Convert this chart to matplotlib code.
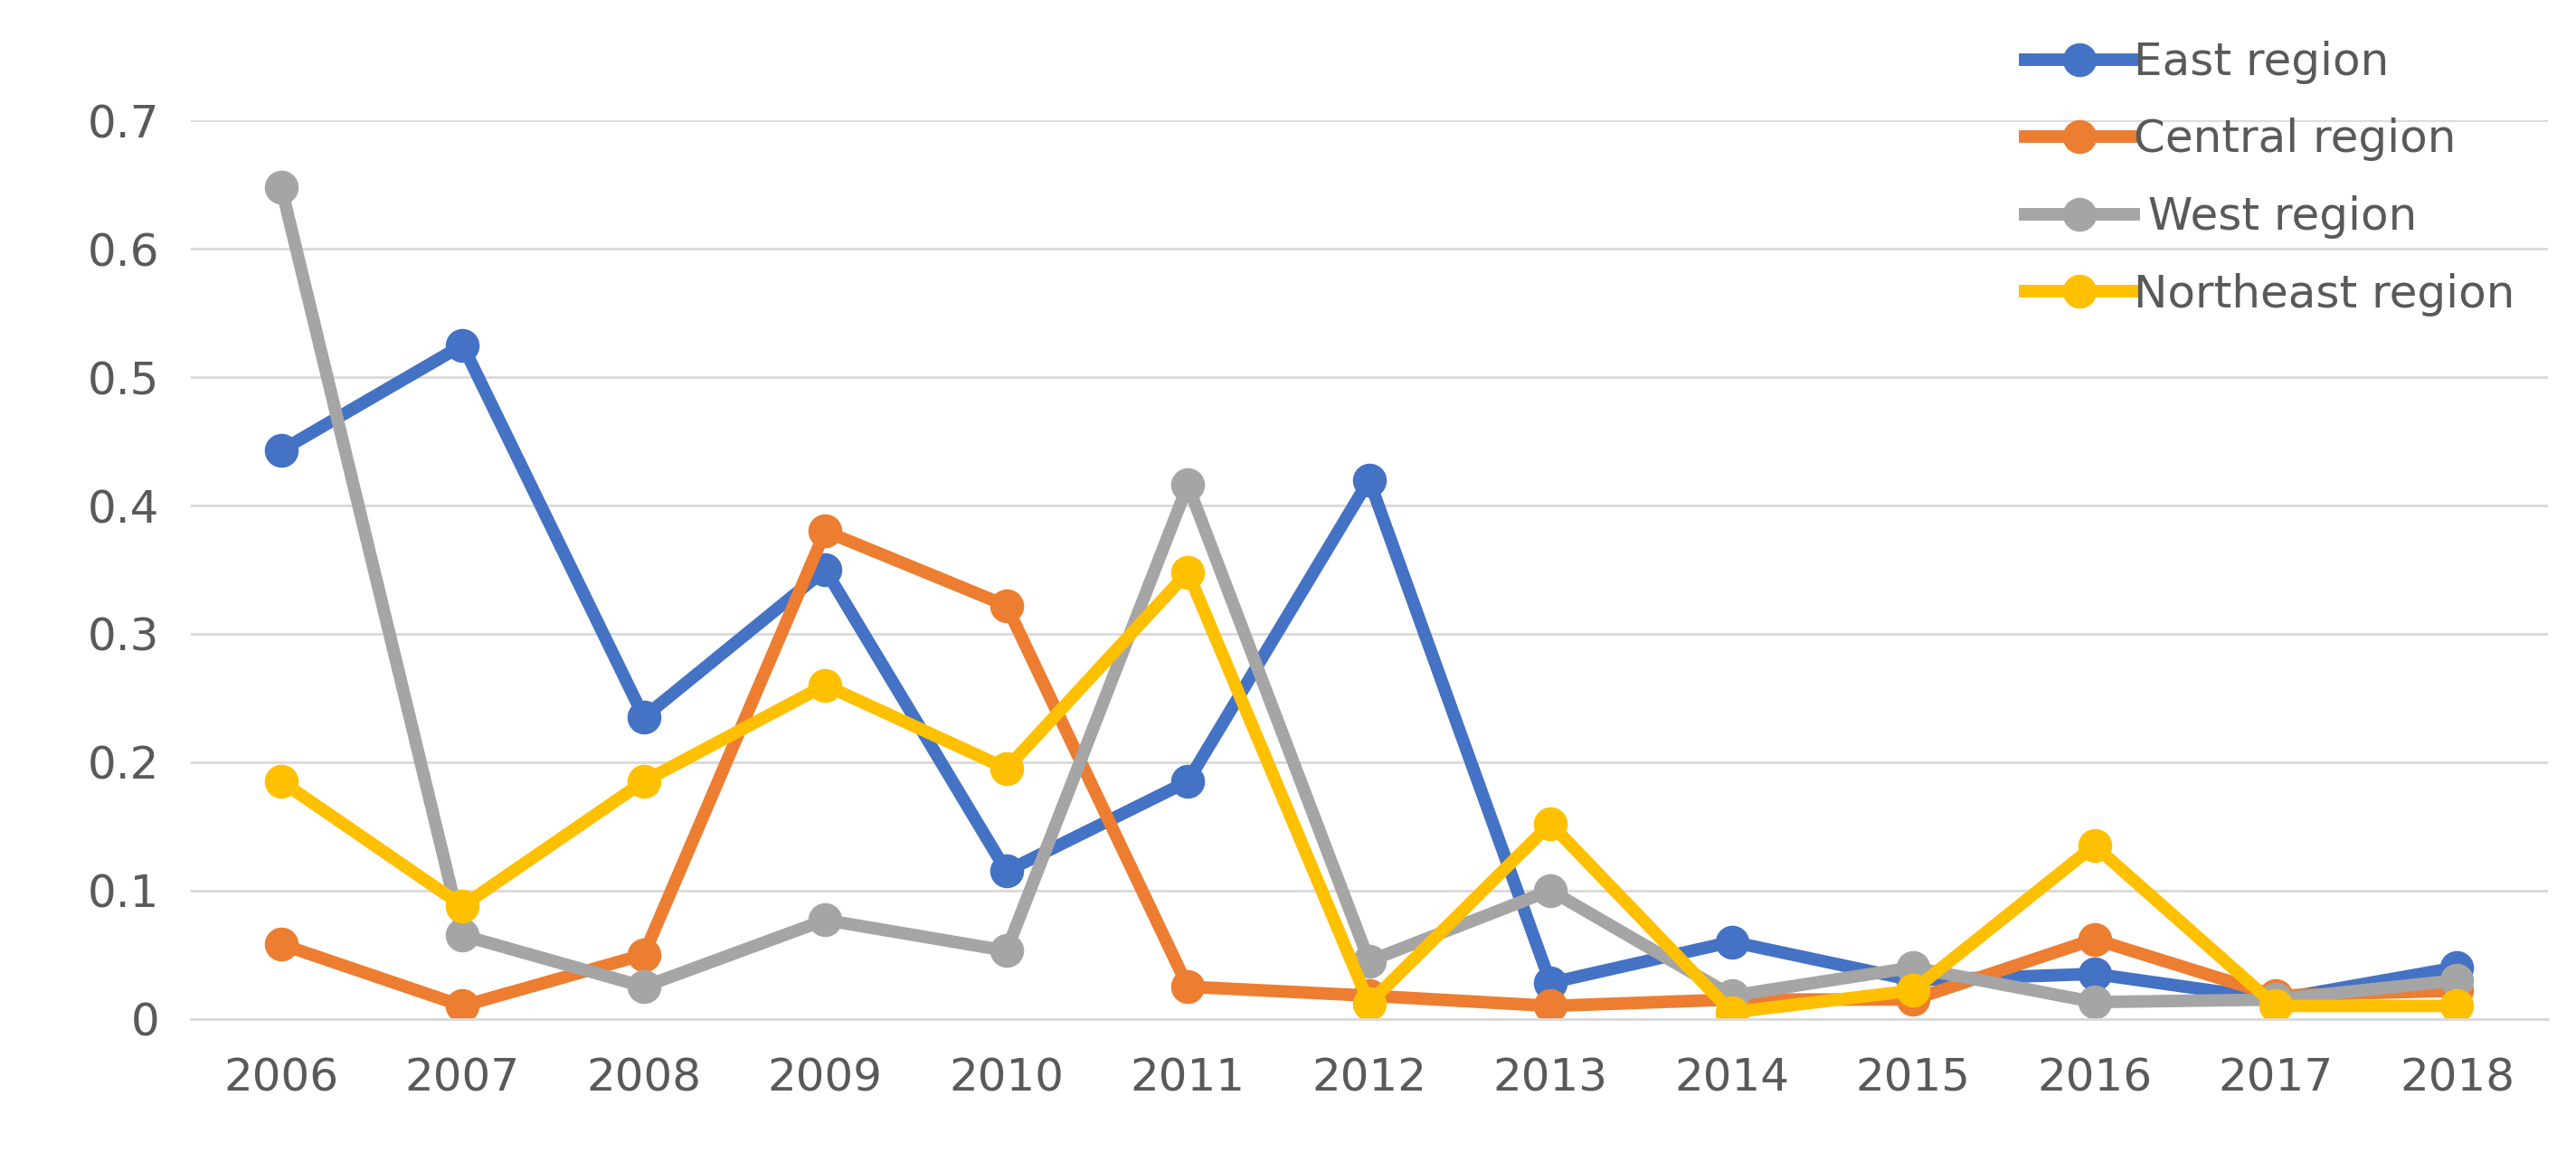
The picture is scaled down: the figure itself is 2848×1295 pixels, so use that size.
import matplotlib.pyplot as plt

years = ["2006", "2007", "2008", "2009", "2010", "2011", "2012",
         "2013", "2014", "2015", "2016", "2017", "2018"]
east = [0.443, 0.525, 0.235, 0.350, 0.115, 0.185, 0.420, 0.028, 0.060, 0.030, 0.035, 0.015, 0.040]
central = [0.058, 0.010, 0.050, 0.380, 0.322, 0.025, 0.018, 0.010, 0.015, 0.015, 0.062, 0.018, 0.022]
west = [0.648, 0.065, 0.025, 0.077, 0.053, 0.416, 0.045, 0.100, 0.018, 0.040, 0.013, 0.015, 0.030]
northeast = [0.185, 0.088, 0.185, 0.260, 0.195, 0.348, 0.012, 0.152, 0.005, 0.022, 0.135, 0.010, 0.010]

series = [
    ("East region", east, "#4472C4"),
    ("Central region", central, "#ED7D31"),
    (" West region", west, "#A5A5A5"),
    ("Northeast region", northeast, "#FFC000"),
]

fig = plt.figure(figsize=(28.48, 12.95), dpi=100)
ax = fig.add_axes([0.074, 0.13, 0.915, 0.767])

x = list(range(len(years)))
for name, vals, col in series:
    ax.plot(x, vals, color=col, lw=10, marker="o", ms=26, label=name)

ax.set_xlim(-0.5, len(years) - 0.5)
ax.set_ylim(0, 0.7)
ax.set_yticks([0, 0.1, 0.2, 0.3, 0.4, 0.5, 0.6, 0.7])
ax.set_yticklabels(["0", "0.1", "0.2", "0.3", "0.4", "0.5", "0.6", "0.7"])
ax.set_xticks(x)
ax.set_xticklabels(years)
ax.tick_params(labelsize=36, colors="#595959", length=0)
ax.tick_params(axis="x", pad=30)
ax.tick_params(axis="y", pad=25)
ax.grid(axis="y", color="#D9D9D9", lw=2)
ax.set_axisbelow(True)
for s in ["top", "right", "left"]:
    ax.spines[s].set_visible(False)
ax.spines["bottom"].set_color("#D9D9D9")
ax.spines["bottom"].set_linewidth(2)

fig.legend(loc="upper right", bbox_to_anchor=(0.992, 1.0), frameon=False,
           fontsize=36, labelcolor="#595959", handlelength=2.4, labelspacing=0.75,
           handletextpad=0.0)

fig.savefig("out.png", dpi=100)
